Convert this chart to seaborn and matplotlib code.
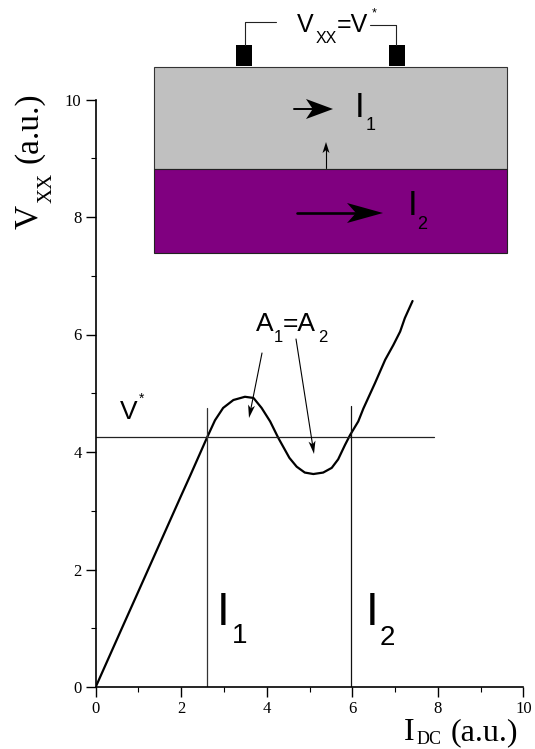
import matplotlib
matplotlib.use("Agg")
import numpy as np
import pandas as pd
import matplotlib.pyplot as plt
import seaborn as sns
from matplotlib.patches import Rectangle, Polygon

# curve
i_dc = [0, 0.6, 1.0, 2.0, 2.205, 2.60, 2.79, 2.98, 3.22, 3.49, 3.69, 3.88, 4.08, 4.27, 4.53, 4.70,
        4.89, 5.09, 5.32, 5.52, 5.67, 5.83, 5.95, 6.14, 6.26, 6.53, 6.77, 6.96, 7.12, 7.23, 7.41]
v_xx = [0, 0.98, 1.63, 3.26, 3.59, 4.24, 4.54, 4.75, 4.885, 4.94, 4.92, 4.75, 4.52, 4.24, 3.90, 3.75,
        3.65, 3.625, 3.65, 3.73, 3.875, 4.12, 4.29, 4.52, 4.74, 5.17, 5.57, 5.82, 6.05, 6.28, 6.57]

v_star = 4.26
v_star_end = 7.91
i1_x, i1_top = 2.6, 4.75
i2_x, i2_top = 5.96, 4.78

W, H = 535, 749
SERIF = "Liberation Serif"
SANS = "Liberation Sans"

sns.set_theme(style="ticks")
plt.rcParams["font.family"] = SERIF
plt.rcParams["text.color"] = "black"
plt.rcParams["xtick.color"] = "black"
plt.rcParams["ytick.color"] = "black"

fig = plt.figure(figsize=(W / 100, H / 100), dpi=100, facecolor="white")
ax = fig.add_axes([95.7 / W, 1 - 687 / H, (523.3 - 95.7) / W, (687 - 99.5) / H])

df = pd.DataFrame({"i": i_dc, "v": v_xx})
sns.lineplot(data=df, x="i", y="v", sort=False, estimator=None, color="black", lw=1.6, ax=ax)
ax.plot([0, v_star_end], [v_star, v_star], color="#222222", lw=0.9)
ax.plot([i1_x, i1_x], [0, i1_top], color="#333333", lw=0.9)
ax.plot([i2_x, i2_x], [0, i2_top], color="#111111", lw=0.9)

ax.set_xlim(0, 10)
ax.set_ylim(0, 10)
ax.set_xlabel("")
ax.set_ylabel("")
ax.set_xticks(np.arange(0, 11, 2))
ax.set_yticks(np.arange(0, 11, 2))
ax.set_xticks(np.arange(1, 10, 2), minor=True)
ax.set_yticks(np.arange(1, 10, 2), minor=True)
ax.tick_params(which="major", length=7.2, width=1.0, labelsize=12, pad=3)
ax.tick_params(which="minor", length=3.6, width=0.8)
ax.patch.set_alpha(0)
for sp in ["top", "right"]:
    ax.spines[sp].set_visible(False)
for sp in ["left", "bottom"]:
    ax.spines[sp].set_linewidth(1.2)
    ax.spines[sp].set_color("black")

# overlay in pixel space for the sketch and the labels
ov = fig.add_axes([0, 0, 1, 1], facecolor="none")
ov.set_xlim(0, W)
ov.set_ylim(H, 0)
ov.axis("off")


def txt(x, y, s, size, family=SANS, **kw):
    ov.text(x, y, s, fontsize=size, family=family, ha="left", va="baseline", **kw)


def arrow(x0, y0, x1, y1, lw, head_len, head_w):
    # shaft plus a notched head
    d = np.array([x1 - x0, y1 - y0], dtype=float)
    d /= np.hypot(*d)
    n = np.array([-d[1], d[0]])
    tip = np.array([x1, y1], dtype=float)
    back = tip - d * head_len
    notch = tip - d * head_len * 0.75
    ov.plot([x0, notch[0]], [y0, notch[1]], color="black", lw=lw, solid_capstyle="round")
    ov.add_patch(Polygon([tip, back + n * head_w / 2, notch, back - n * head_w / 2],
                         fc="black", ec="none"))


# layers
ov.add_patch(Rectangle((154, 67), 353, 101.5, fc="#C0C0C0", ec="#333333", lw=0.8))
ov.add_patch(Rectangle((154, 168.5), 353, 84.5, fc="#800080", ec="#222222", lw=0.8))
# contacts and wires
ov.add_patch(Rectangle((236, 45), 16, 21, fc="black", ec="none"))
ov.add_patch(Rectangle((389, 45), 16, 21, fc="black", ec="none"))
ov.plot([245, 245, 276], [45, 22, 22], color="#222222", lw=0.8)
ov.plot([370, 396, 396], [25, 25, 45], color="#222222", lw=0.8)

arrow(294, 109, 333, 109, 1.4, 27, 20)
arrow(297, 213, 383, 213, 1.9, 36, 20)
arrow(326, 168, 326, 142, 0.8, 11, 7)
arrow(262, 353, 249, 418, 0.8, 13, 7)
arrow(296, 339, 314, 454, 0.8, 13, 7)

txt(297, 32, "V", 18)
txt(316, 43, "XX", 11.5)
txt(337, 32, "=V", 18)
txt(372, 16, "*", 9)
txt(355, 117, "I", 25)
txt(366, 130, "1", 13)
txt(408, 215, "I", 25)
txt(417, 229, "2", 13)
txt(256, 331, "A", 19)
txt(274, 342, "1", 12)
txt(283, 331, "=A", 19)
txt(318, 342, "2", 12)
txt(120, 419, "V", 19)
txt(139, 403, "*", 10)
txt(217, 625, "I", 33)
txt(232, 643, "1", 20)
txt(366, 625, "I", 33)
txt(380, 645, "2", 20)

# axis titles
txt(404, 740, "I", 23, family=SERIF)
txt(417, 744, "DC", 13, family=SERIF)
txt(451, 740, "(a.u.)", 23, family=SERIF)
ov.text(37, 229, "V", fontsize=24, family=SERIF, rotation=90, rotation_mode="anchor", ha="left", va="baseline")
ov.text(52, 203, "XX", fontsize=15, family=SERIF, rotation=90, rotation_mode="anchor", ha="left", va="baseline")
ov.text(37, 163, "(a.u.)", fontsize=24, family=SERIF, rotation=90, rotation_mode="anchor", ha="left", va="baseline")

fig.savefig("out.png", dpi=100)
